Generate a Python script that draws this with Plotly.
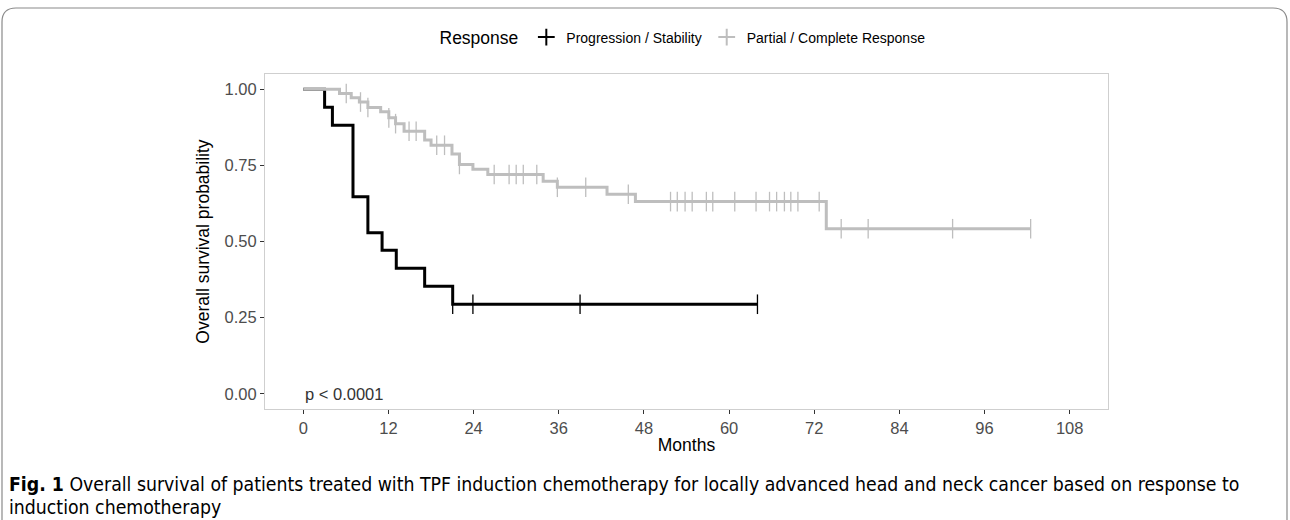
import numpy as np
import plotly.graph_objects as go

# ---------------- data ----------------
x_ticks = [0, 12, 24, 36, 48, 60, 72, 84, 96, 108]
y_ticks = [0.00, 0.25, 0.50, 0.75, 1.00]
y_tick_labels = ["0.00", "0.25", "0.50", "0.75", "1.00"]

prog_name = "Progression / Stability"
prog_event_times = [3.0, 4.1, 7.0, 9.1, 11.1, 13.1, 17.1, 21.05]
prog_surv = [0.941, 0.882, 0.647, 0.529, 0.471, 0.412, 0.353, 0.294]
prog_censor_times = [21.05, 23.9, 39.0, 64.0]

resp_name = "Partial / Complete Response"
resp_event_times = [5.1, 6.75, 7.9, 9.1, 10.9, 12.05, 13.0, 14.2, 17.1, 18.0,
                    20.95, 22.0, 23.9, 26.0, 33.8, 35.8, 42.8, 46.8, 73.7]
resp_surv = [0.986, 0.972, 0.958, 0.940, 0.926, 0.906, 0.887, 0.862, 0.833, 0.816,
             0.787, 0.753, 0.737, 0.720, 0.698, 0.678, 0.655, 0.631, 0.542]
resp_censor_times = [6.05, 8.06, 9.1, 12.05, 13.0, 14.9, 15.9, 18.8, 19.9, 22.0,
                     26.9, 29.0, 30.0, 31.0, 32.9, 35.8, 39.8, 45.8,
                     51.75, 52.7, 53.8, 54.8, 56.8, 57.7, 60.8, 63.8, 65.7, 66.7,
                     67.8, 68.7, 69.7, 72.7, 75.8, 79.6, 91.5, 102.5]

p_text = "p < 0.0001"
legend_title = "Response"
x_title = "Months"
y_title = "Overall survival probability"
caption_line1 = ("<b>Fig. 1</b> Overall survival of patients treated with TPF induction chemotherapy "
                 "for locally advanced head and neck cancer based on response to")
caption_line2 = "induction chemotherapy"

# ---------------- styling ----------------
BLACK = "#000000"
GREY = "#BEBEBE"
W, H = 1290, 520
L, R, T, B = 265, 1290 - 1108, 74, 520 - 409
FONT = "Liberation Sans, Arial, sans-serif"
CAP_FONT = "DejaVu Sans Condensed, Liberation Sans, sans-serif"


def step_xy(times, surv, censors):
    x = [0.0] + list(times)
    y = [1.0] + list(surv)
    end = max(list(censors) + list(times))
    x.append(end)
    y.append(y[-1])
    return x, y


def level_at(times, surv, t):
    t_arr = np.asarray(times)
    s_arr = np.asarray([1.0] + list(surv))
    idx = np.searchsorted(t_arr, np.asarray(t), side="right")
    return s_arr[idx]


fig = go.Figure()
for name, et, sv, ct, col in [
    (prog_name, prog_event_times, prog_surv, prog_censor_times, BLACK),
    (resp_name, resp_event_times, resp_surv, resp_censor_times, GREY),
]:
    sx, sy = step_xy(et, sv, ct)
    fig.add_trace(go.Scatter(x=sx, y=sy, mode="lines", line=dict(color=col, width=3, shape="hv"),
                             showlegend=False, hoverinfo="skip"))
    fig.add_trace(go.Scatter(x=ct, y=level_at(et, sv, ct), mode="markers",
                             marker=dict(symbol="line-ns-open", size=14, color=col,
                                         line=dict(color=col, width=1.3)),
                             showlegend=False, hoverinfo="skip"))
    fig.add_trace(go.Scatter(x=[None], y=[None], mode="markers", name=name,
                             marker=dict(symbol="cross-thin-open", size=19, color=col,
                                         line=dict(color=col, width=2.8))))

axis_common = dict(showgrid=False, zeroline=False, showline=True, mirror=True,
                   linecolor="#CFCFCF", linewidth=1, ticks="outside", ticklen=4,
                   tickcolor="#333333", tickwidth=1,
                   tickfont=dict(family=FONT, size=16.5, color="#4D4D4D"))

fig.update_xaxes(range=[-5.4, 113.4], tickvals=x_ticks, ticktext=[str(v) for v in x_ticks],
                 title=dict(text=x_title, font=dict(family=FONT, size=17.5, color="#000000"), standoff=2),
                 **axis_common)
fig.update_yaxes(range=[-0.05, 1.05], tickvals=y_ticks, ticktext=y_tick_labels,
                 title=dict(text=y_title, font=dict(family=FONT, size=17.5, color="#000000"), standoff=10),
                 **axis_common)

fig.add_annotation(x=0, y=0.0, xref="x", yref="y", text=p_text, showarrow=False,
                   xanchor="left", yanchor="middle",
                   font=dict(family=FONT, size=16.5, color="#333333"))

pw = W - L - R
ph = H - T - B


def px_to_paper_x(px):
    return (px - L) / pw


def px_to_paper_y(py):
    return (H - B - py) / ph


# caption (two lines)
for txt, yc in [(caption_line1, 484), (caption_line2, 507)]:
    fig.add_annotation(x=px_to_paper_x(7), y=px_to_paper_y(yc), xref="paper", yref="paper",
                       text=txt, showarrow=False, xanchor="left", yanchor="middle", align="left",
                       font=dict(family=CAP_FONT, size=19.3, color="#000000"))

# rounded frame
x0, x1 = px_to_paper_x(2), px_to_paper_x(1287)
y0, y1 = px_to_paper_y(540), px_to_paper_y(8)
rx = 14 / pw
ry = 14 / ph
path = (f"M {x0},{y0} L {x0},{y1 - ry} Q {x0},{y1} {x0 + rx},{y1} "
        f"L {x1 - rx},{y1} Q {x1},{y1} {x1},{y1 - ry} L {x1},{y0}")
fig.add_shape(type="path", path=path, xref="paper", yref="paper",
              line=dict(color="#8A8A8A", width=1.2), layer="below")

fig.update_layout(
    width=W, height=H, margin=dict(l=L, r=R, t=T, b=B, autoexpand=False),
    paper_bgcolor="white", plot_bgcolor="white",
    legend=dict(orientation="h", x=px_to_paper_x(684), xanchor="center", y=px_to_paper_y(38),
                yanchor="middle",
                title=dict(text=legend_title, font=dict(family=FONT, size=17.5, color="#000000")),
                font=dict(family=FONT, size=14, color="#000000"),
                bgcolor="rgba(0,0,0,0)", itemsizing="constant"),
    showlegend=True,
)

fig.write_html("out.html", config={"displayModeBar": False},
               post_script="document.body.style.margin='0';document.body.style.overflow='hidden';")
